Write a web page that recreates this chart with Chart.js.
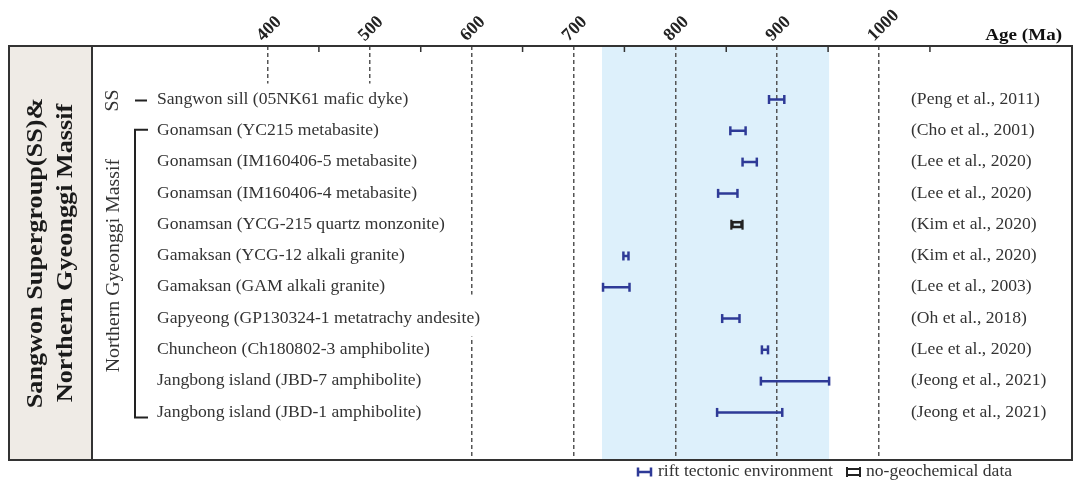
<!DOCTYPE html>
<html>
<head>
<meta charset="utf-8">
<script src="https://cdn.jsdelivr.net/npm/chart.js@4.4.0/dist/chart.umd.min.js"></script>
<style>
  body { margin: 0; background: #fff; }
</style>
</head>
<body>
<canvas id="grafico" width="1074" height="483"></canvas>
<script>
//Dados (de cima para baixo)
const amostras = [
  "Sangwon sill (05NK61 mafic dyke)",
  "Gonamsan (YC215 metabasite)",
  "Gonamsan (IM160406-5 metabasite)",
  "Gonamsan (IM160406-4 metabasite)",
  "Gonamsan (YCG-215 quartz monzonite)",
  "Gamaksan (YCG-12 alkali granite)",
  "Gamaksan (GAM alkali granite)",
  "Gapyeong (GP130324-1 metatrachy andesite)",
  "Chuncheon (Ch180802-3 amphibolite)",
  "Jangbong island (JBD-7 amphibolite)",
  "Jangbong island (JBD-1 amphibolite)"
];
const referencias = [
  "(Peng et al., 2011)", "(Cho et al., 2001)", "(Lee et al., 2020)", "(Lee et al., 2020)",
  "(Kim et al., 2020)", "(Kim et al., 2020)", "(Lee et al., 2003)", "(Oh et al., 2018)",
  "(Lee et al., 2020)", "(Jeong et al., 2021)", "(Jeong et al., 2021)"
];
const idadeMin = [892, 854, 866, 842, 855, 749, 729, 846, 885, 884, 841];
const idadeMax = [907, 869, 880, 861, 866, 754, 755, 863, 891, 951, 905];
const temGeoquimica = [true, true, true, true, false, true, true, true, true, true, true];
const faixaAzul = [728, 951];
const ticksIdade = [400, 500, 600, 700, 800, 900, 1000];
const ticksMenores = [450, 550, 650, 750, 850, 950, 1050];

const AZUL = "#2e3a97";
const PRETO = "#222";
const SERIF = "'Liberation Serif', 'Times New Roman', serif";

//pontos das barras de erro (azul) e barras sem dados geoquimicos (preto)
let pontosRift = [];
let pontosPretos = [];
let barrasSemDados = [];
for (let i = 0; i < amostras.length; i++) {
  if (temGeoquimica[i]) {
    pontosRift.push({x: idadeMin[i], y: i}, {x: idadeMax[i], y: i}, {x: null, y: null});
  } else {
    pontosPretos.push({x: idadeMin[i], y: i}, {x: idadeMax[i], y: i}, {x: null, y: null});
    barrasSemDados.push({x: [idadeMin[i], idadeMax[i]], y: i});
  }
}

function escreve(ctx, str, x, y, fonte, cor, alinhamento, esticar, rotacao) {
  ctx.save();
  ctx.translate(x, y);
  if (rotacao) ctx.rotate(rotacao);
  ctx.scale(esticar, 1);
  ctx.font = fonte;
  ctx.fillStyle = cor;
  ctx.textAlign = alinhamento;
  ctx.textBaseline = "middle";
  ctx.fillText(str, 0, 0);
  ctx.restore();
}

const desenhos = {
  id: "desenhos",
  beforeDraw(chart) {
    const {ctx, chartArea: a, scales: {x}} = chart;
    ctx.save();
    //caixa bege da esquerda
    ctx.fillStyle = "#efebe6";
    ctx.fillRect(9, a.top, a.left - 9, a.bottom - a.top);
    //faixa azul
    let x1 = x.getPixelForValue(faixaAzul[0]);
    let x2 = x.getPixelForValue(faixaAzul[1]);
    ctx.fillStyle = "#ddf0fb";
    ctx.fillRect(x1, a.top, x2 - x1, a.bottom - a.top);
    ctx.restore();
  },
  beforeDatasetsDraw(chart) {
    const {ctx, chartArea: a, scales: {x, y}} = chart;
    const fonte = "16px " + SERIF;
    const xTexto = a.left + 65;
    ctx.save();
    //fundo branco atras dos nomes
    ctx.fillStyle = "#fff";
    ctx.fillRect(xTexto - 8, y.getPixelForValue(0) - 16, x.getPixelForValue(590) - xTexto + 8, a.bottom - y.getPixelForValue(0) + 15);
    ctx.font = fonte;
    let larg = ctx.measureText(amostras[7]).width * 1.1;
    ctx.fillRect(xTexto - 4, y.getPixelForValue(7) - 24, larg + 10, 42);

    for (let i = 0; i < amostras.length; i++) {
      let yy = y.getPixelForValue(i);
      escreve(ctx, amostras[i], xTexto, yy, fonte, "#333", "left", 1.1);
      escreve(ctx, referencias[i], a.right - 161, yy, fonte, "#333", "left", 1.1);
    }

    //SS e chave do Northern Gyeonggi Massif
    ctx.strokeStyle = "#222";
    ctx.lineWidth = 2;
    let y0 = y.getPixelForValue(0);
    let y1 = y.getPixelForValue(1);
    let y10 = y.getPixelForValue(10);
    ctx.beginPath();
    ctx.moveTo(a.left + 43, y0 + 1);
    ctx.lineTo(a.left + 55, y0 + 1);
    ctx.moveTo(a.left + 56, y1 - 1);
    ctx.lineTo(a.left + 43, y1 - 1);
    ctx.lineTo(a.left + 43, y10 + 5);
    ctx.lineTo(a.left + 56, y10 + 5);
    ctx.stroke();
    escreve(ctx, "SS", a.left + 21, y0 + 1, "18px " + SERIF, "#333", "center", 1.1, -Math.PI / 2);
    escreve(ctx, "Northern Gyeonggi Massif", a.left + 22, (y1 + y10) / 2 - 6, "18px " + SERIF, "#333", "center", 1.1, -Math.PI / 2);

    //texto da caixa bege
    let meio = (a.top + a.bottom) / 2;
    escreve(ctx, "Sangwon Supergroup(SS)&", 36, meio, "bold 23px " + SERIF, "#1a1a1a", "center", 1.14, -Math.PI / 2);
    escreve(ctx, "Northern Gyeonggi Massif", 66, meio, "bold 23px " + SERIF, "#1a1a1a", "center", 1.14, -Math.PI / 2);
    ctx.restore();
  },
  afterDraw(chart) {
    const {ctx, chartArea: a, scales: {x}} = chart;
    ctx.save();
    //moldura
    ctx.strokeStyle = "#333";
    ctx.lineWidth = 2;
    ctx.strokeRect(9, a.top, a.right - 9, a.bottom - a.top);
    ctx.beginPath();
    ctx.moveTo(a.left, a.top);
    ctx.lineTo(a.left, a.bottom);
    ctx.stroke();
    //ticks menores para dentro
    ctx.lineWidth = 1.5;
    ctx.beginPath();
    for (let v of ticksMenores) {
      let px = x.getPixelForValue(v);
      ctx.moveTo(px, a.top);
      ctx.lineTo(px, a.top + 6);
    }
    ctx.stroke();
    escreve(ctx, "Age (Ma)", a.right - 10, a.top - 10, "bold 17px " + SERIF, "#111", "right", 1.12);

    //legenda
    let yl = a.bottom + 12;
    ctx.strokeStyle = AZUL;
    ctx.lineWidth = 2.5;
    ctx.beginPath();
    ctx.moveTo(638, yl); ctx.lineTo(651, yl);
    ctx.moveTo(638, yl - 4.5); ctx.lineTo(638, yl + 4.5);
    ctx.moveTo(651, yl - 4.5); ctx.lineTo(651, yl + 4.5);
    ctx.stroke();
    escreve(ctx, "rift tectonic environment", 658, yl, "16px " + SERIF, "#333", "left", 1.1);
    ctx.strokeStyle = PRETO;
    ctx.lineWidth = 2;
    ctx.beginPath();
    ctx.moveTo(847, yl - 3); ctx.lineTo(860, yl - 3);
    ctx.moveTo(847, yl + 3); ctx.lineTo(860, yl + 3);
    ctx.moveTo(847, yl - 5); ctx.lineTo(847, yl + 5);
    ctx.moveTo(860, yl - 5); ctx.lineTo(860, yl + 5);
    ctx.stroke();
    escreve(ctx, "no-geochemical data", 866, yl, "16px " + SERIF, "#333", "left", 1.1);
    ctx.restore();
  }
};

const ctx = document.getElementById("grafico").getContext("2d");
const grafico = new Chart(ctx, {
  type: "line",
  data: {
    datasets: [
      {
        label: "rift tectonic environment",
        data: pontosRift,
        borderColor: AZUL,
        borderWidth: 2.5,
        pointStyle: "line",
        pointRotation: 90,
        pointRadius: 4.5,
        pointHoverRadius: 4.5,
        pointBorderColor: AZUL,
        pointBorderWidth: 2.5,
        spanGaps: false,
        fill: false,
        tension: 0
      },
      {
        //apenas as pontas verticais do marcador preto
        label: "no-geochemical data",
        data: pontosPretos,
        showLine: false,
        pointStyle: "line",
        pointRotation: 90,
        pointRadius: 5,
        pointHoverRadius: 5,
        pointBorderColor: PRETO,
        pointBorderWidth: 2.2
      },
      {
        type: "bar",
        indexAxis: "y",
        label: "no-geochemical data",
        data: barrasSemDados,
        barThickness: 7,
        borderWidth: 2,
        borderSkipped: false,
        borderColor: PRETO,
        backgroundColor: "rgba(0,0,0,0)"
      }
    ]
  },
  options: {
    responsive: false,
    animation: false,
    layout: { autoPadding: false, padding: { left: 92, right: 2, top: 0, bottom: 23 } },
    plugins: {
      legend: { display: false },
      tooltip: { enabled: false }
    },
    scales: {
      x: {
        type: "linear",
        position: "top",
        min: 227.2,
        max: 1189.5,
        afterBuildTicks: s => { s.ticks = ticksIdade.map(v => ({value: v})); },
        afterFit: s => { s.height = 46; s.paddingLeft = 0; s.paddingRight = 0; },
        grid: { color: "#555", lineWidth: 1.5, drawTicks: false },
        border: { display: false, dash: [4, 3] },
        ticks: {
          autoSkip: false,
          minRotation: 45,
          maxRotation: 45,
          padding: 0,
          labelOffset: 7,
          color: "#222",
          font: { family: SERIF, size: 18, weight: "bold" },
          callback: v => String(v)
        }
      },
      y: {
        type: "linear",
        reverse: true,
        offset: false,
        grid: { offset: false },
        min: -1.71,
        max: 11.52,
        display: false
      }
    }
  },
  plugins: [desenhos]
});
</script>
</body>
</html>
